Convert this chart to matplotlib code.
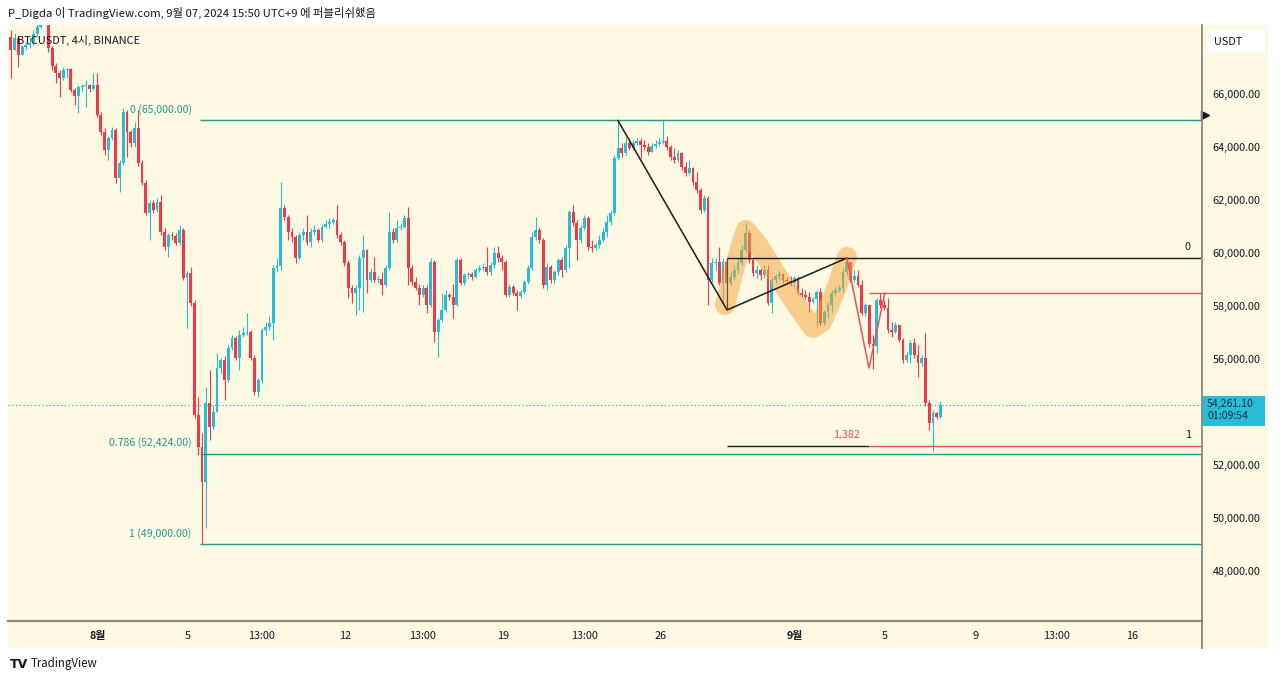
import matplotlib
matplotlib.use("Agg")
import matplotlib.pyplot as plt
import numpy as np
from matplotlib.patches import Rectangle, FancyBboxPatch
from matplotlib.lines import Line2D
from matplotlib.transforms import blended_transform_factory

plt.rcParams["font.family"] = ["Noto Sans CJK KR", "DejaVu Sans"]

# ---- BTCUSDT 4h candles (Jul 28 -> Sep 7), open of each bar = previous close ----
first_open = 68150
close = [
    67660, 68110, 67470, 67770, 67850, 67930, 68270, 68530, 68980, 69170,
    67740, 67060, 66790, 66600, 66910, 66940, 66150, 65930, 66260, 66300,
    66340, 66190, 66340, 65210, 64570, 63890, 64340, 64640, 62830, 63400,
    65320, 64570, 64150, 64720, 63400, 62640, 61510, 61890, 61620, 61920,
    60790, 60230, 60680, 60640, 60380, 60870, 59060, 59250, 58110, 53890,
    52680, 51360, 54340, 53430, 54000, 55660, 55960, 55210, 56410, 56790,
    56040, 56910, 56980, 57020, 56040, 54750, 55210, 57090, 57210, 57360,
    59430, 59510, 61700, 61360, 60790, 60600, 59810, 60680, 60790, 60410,
    60790, 60870, 60490, 60980, 61090, 61170, 61250, 60680, 60410, 59620,
    58680, 58490, 58680, 59810, 60110, 58980, 59280, 58980, 59020, 58790,
    59430, 60790, 60490, 60940, 60980, 61320, 59430, 58910, 58680, 58410,
    58680, 58040, 59660, 57020, 57470, 57850, 58410, 58340, 58040, 59740,
    58870, 59170, 59210, 59090, 59360, 59430, 59470, 59280, 59550, 60000,
    59810, 59660, 58410, 58720, 58490, 58380, 58530, 58910, 59430, 60600,
    60870, 60490, 58790, 59470, 58980, 59280, 59740, 59360, 60190, 61550,
    61130, 60490, 60940, 61320, 60230, 60190, 60300, 60490, 60790, 61170,
    61510, 63590, 63960, 63770, 64150, 63960, 64150, 64230, 64080, 64000,
    63810, 64040, 64110, 64190, 64230, 64000, 63620, 63510, 63770, 63250,
    63020, 63210, 62680, 62380, 61620, 62080, 58980, 59620, 59660, 58870,
    59660, 58870, 59090, 59360, 59620, 60110, 60760, 59740, 59250, 59360,
    59170, 59360, 58110, 58980, 59130, 59210, 58980, 58940, 58870, 59060,
    58490, 58410, 58340, 58150, 58260, 58530, 57360, 57770, 58040, 58490,
    58600, 58680, 59280, 59660, 58980, 59130, 58790, 57740, 58040, 56570,
    56490, 58230, 58040, 57920, 57090, 57020, 57280, 56720, 55960, 56150,
    56600, 56150, 55850, 56040, 54340, 53580, 53960, 53810, 54261.10,
]
high = [
    68420, 68300, 68190, 67850, 67960, 68150, 68420, 68790, 69360, 69550,
    69170, 67810, 67170, 66910, 67020, 66980, 66980, 66230, 66340, 66380,
    66530, 66380, 66790, 66790, 65320, 64720, 64420, 64760, 64720, 63510,
    65470, 65400, 64640, 64940, 65400, 63510, 62760, 62000, 62000, 62080,
    62190, 60940, 60760, 60790, 60760, 61060, 60940, 59320, 59470, 58230,
    54570, 53210, 54940, 55580, 54260, 56230, 56040, 56110, 56530, 56910,
    56870, 57090, 57210, 57740, 57090, 56150, 55280, 57170, 57400, 57620,
    59550, 59810, 62680, 61810, 61430, 60940, 60680, 60790, 60940, 61430,
    60940, 61060, 60940, 61090, 61250, 61320, 61320, 61810, 60790, 60490,
    59740, 58790, 58790, 59920, 60680, 60150, 59430, 59850, 59130, 59280,
    59550, 61550, 60940, 61250, 61130, 61430, 61740, 59550, 59090, 58830,
    58790, 58790, 59810, 59740, 57550, 58490, 58600, 58490, 58830, 59810,
    59810, 59250, 59280, 59280, 59430, 59550, 59620, 60230, 59660, 60230,
    60260, 59920, 59740, 58830, 58790, 58600, 58600, 58980, 59550, 60790,
    61360, 60980, 60570, 59620, 59550, 59360, 59810, 59850, 60300, 61620,
    61810, 61250, 61060, 61430, 61400, 60490, 60380, 60680, 60940, 61430,
    61620, 63700, 65000, 64150, 64340, 64340, 64260, 64340, 64340, 64260,
    64150, 64150, 64260, 64340, 65000, 64420, 64080, 63960, 63890, 63810,
    63430, 63510, 63250, 63060, 62450, 62190, 62150, 59810, 59810, 60230,
    59810, 59740, 59280, 59550, 59810, 60300, 61130, 60870, 59810, 59550,
    59430, 59550, 59550, 59090, 59210, 59320, 59250, 59090, 59130, 59130,
    59130, 58680, 58600, 58530, 58340, 58600, 58680, 57850, 58150, 58600,
    58720, 58790, 59430, 59810, 59660, 59360, 59360, 58980, 58110, 58040,
    56910, 58300, 58490, 58230, 58300, 57400, 57400, 57280, 56790, 56260,
    56720, 56790, 56530, 56150, 56980, 54450, 54080, 54000, 54410,
]
low = [
    66600, 67660, 67020, 67470, 67660, 67740, 67850, 68190, 68490, 68790,
    67590, 66910, 66420, 65890, 66530, 66600, 66080, 65590, 65280, 66080,
    65510, 66080, 66150, 65130, 64450, 63700, 63510, 64260, 62640, 62300,
    63320, 63620, 64000, 64000, 63280, 62570, 61430, 60490, 61510, 61550,
    60680, 60110, 59850, 60490, 60300, 60300, 58980, 57170, 58000, 53770,
    52380, 49000, 49620, 52940, 53320, 54000, 55470, 54450, 55130, 56340,
    55960, 55580, 56830, 56910, 55960, 54640, 54570, 55090, 56910, 57090,
    56720, 59280, 59360, 61250, 60490, 60410, 59620, 59740, 60490, 60300,
    60230, 60680, 60410, 60410, 60940, 60940, 61090, 60570, 60300, 59510,
    58300, 58110, 57660, 57850, 57770, 58490, 58910, 58910, 58870, 58410,
    58720, 59360, 60380, 60410, 60870, 60940, 58790, 58790, 58600, 58040,
    58340, 57740, 57960, 56640, 56080, 57400, 57770, 58230, 57550, 58000,
    58790, 58790, 59060, 58980, 59060, 59280, 59360, 59170, 59170, 59430,
    59660, 59360, 58340, 58340, 58410, 57850, 58300, 58450, 58830, 59360,
    60490, 60380, 58680, 58600, 58870, 58870, 59170, 59090, 59280, 59430,
    61020, 59740, 60380, 60870, 60110, 60040, 60110, 60190, 60410, 60600,
    61060, 61430, 63510, 63620, 63700, 63890, 63890, 64080, 63590, 63890,
    63700, 63810, 63960, 64040, 64110, 63890, 63510, 63400, 63430, 63130,
    62910, 62940, 62570, 62260, 61510, 61550, 58040, 58910, 59360, 58790,
    58110, 57850, 58790, 58980, 59250, 59550, 60040, 59620, 59130, 59060,
    58980, 59060, 58040, 57740, 58870, 58980, 58870, 58830, 58750, 58680,
    58410, 58340, 58260, 57770, 58110, 57210, 57280, 57280, 57550, 57770,
    58380, 58530, 58530, 59170, 58910, 58900, 58720, 57660, 57620, 56450,
    55620, 56230, 57920, 57850, 56980, 56830, 56980, 56640, 55850, 55890,
    55850, 56040, 55320, 55740, 54230, 53320, 52530, 53730, 53770,
]

# fib retracement drawn from the Aug 5 low (teal)
fib_levels = [65000, 52424, 49000]
fib_labels = ["0 (65,000.00)", "0.786 (52,424.00)", "1 (49,000.00)"]
fib_start = 4.535            # days since Aug 1 00:00

# black pattern lines: days / prices
zig_days = [23.12, 27.97, 33.30]
zig_prices = [65000, 57850, 59810]
black_zero = 59810
black_one = 52716
# red projection
red_days = [33.30, 34.28, 34.99]
red_prices = [59810, 55660, 58490]
red_level = 58490
red_ext = 52716
red_ext_label = "1.382"
# orange highlight stroke
hl_days = [27.88, 28.37, 28.81, 29.30, 30.33, 31.21, 31.79, 32.19, 32.77, 33.30]
hl_prices = [58037, 59660, 60868, 60377, 58980, 57848, 57169, 57396, 58528, 59849]

xtick_pos = [0, 4, 7.29, 11, 14.41, 18, 21.61, 25, 31, 35, 39, 42.64, 46]
xtick_lab = ["8월", "5", "13:00", "12", "13:00", "19", "13:00", "26", "9월", "5", "9", "13:00", "16"]
# 54,000 is hidden behind the last-price label, as on the reference
price_ticks = [48000, 50000, 52000, 56000, 58000, 60000, 62000, 64000, 66000]

header = "P_Digda 이 TradingView.com, 9월 07, 2024 15:50 UTC+9 에 퍼블리쉬했음"
symbol = "BTCUSDT, 4시, BINANCE"
countdown = "01:09:54"

W, H = 1280, 681
BG = "#fdf9e2"
UP = "#27bdd6"
DN = "#ee3a49"
TEAL = "#1f9c8c"
TXT = "#131722"
SEP = "#8a887b"


def fx(px):
    return px / W


def fy(py):
    return 1 - py / H


fig = plt.figure(figsize=(12.8, 6.81), dpi=100, facecolor="white")
fig.patches.append(Rectangle((fx(8), fy(648)), fx(1268) - fx(8), fy(25) - fy(648),
                             transform=fig.transFigure, facecolor=BG, edgecolor="none", zorder=-5))

ax = fig.add_axes([fx(8), fy(620), fx(1202) - fx(8), fy(25) - fy(620)])
ax.set_zorder(1)
ax.set_facecolor(BG)
for s in ax.spines.values():
    s.set_visible(False)
x0, x1 = -4.0, 49.09
y0, y1 = 46149, 68604
ax.set_xlim(x0, x1)
ax.set_ylim(y0, y1)
per_px = (y1 - y0) / 595.0

# candles
c = np.array(close, dtype=float)
hi = np.array(high, dtype=float)
lo = np.array(low, dtype=float)
n = len(c)
d_last = 37.46
t = d_last - (n - 1 - np.arange(n)) / 6.0
o = np.r_[first_open, c[:-1]]
cols = np.where(c >= o, UP, DN)
ax.vlines(t, lo, hi, colors=cols, linewidth=0.8, zorder=3)
ax.bar(t, np.maximum(np.abs(c - o), 30), bottom=np.minimum(o, c), width=0.128,
       color=cols, linewidth=0, zorder=4)

# last price dotted line
ax.axhline(c[-1], color=UP, lw=0.9, ls=(0, (1, 2)), zorder=2)

# teal fib
ax.hlines(fib_levels, fib_start, x1, color=TEAL, lw=1.0, zorder=5)
for lv, lb in zip(fib_levels, fib_labels):
    ax.annotate(lb, xy=(fib_start, lv), xytext=(-6, 8), textcoords="offset points",
                ha="right", va="center", fontsize=7.6, color=TEAL)

# orange highlight
ax.plot(hl_days, hl_prices, color="#f5a43a", alpha=0.5, lw=14.5,
        solid_capstyle="round", solid_joinstyle="round", zorder=6)

# black lines
ax.plot(zig_days, zig_prices, color="#1b1b1b", lw=1.1, zorder=7)
ax.hlines(black_zero, zig_days[1], x1, color="#1b1b1b", lw=1.0, zorder=7)
ax.hlines(black_one, zig_days[1], red_days[1], color="#1b1b1b", lw=1.0, zorder=7)
ax.vlines(zig_days[1], zig_prices[1], black_zero, color="#6b4a20", lw=0.8, zorder=7)
ax.annotate("0", xy=(x1, black_zero), xytext=(-8, 8), textcoords="offset points",
            ha="right", va="center", fontsize=7.8, color=TXT)
ax.annotate("1", xy=(x1, black_one), xytext=(-8, 8), textcoords="offset points",
            ha="right", va="center", fontsize=7.8, color=TXT)

# red lines
RED = "#f0505c"
ax.plot(red_days, red_prices, color=RED, lw=1.1, zorder=7)
ax.hlines(red_level, red_days[1], x1, color=RED, lw=1.0, zorder=7)
ax.hlines(red_ext, red_days[1], x1, color=RED, lw=1.0, zorder=7)
ax.annotate(red_ext_label, xy=(red_days[0], red_ext), xytext=(0, 8), textcoords="offset points",
            ha="center", va="center", fontsize=7.8, color="#e8505c")

# right price axis
ax.yaxis.tick_right()
ax.set_yticks(price_ticks)
ax.set_yticklabels([f"{v:,.2f}" for v in price_ticks])
ax.tick_params(axis="y", length=0, pad=7.5, labelsize=7.8, labelcolor=TXT)

# bottom time axis
ax.set_xticks(xtick_pos)
ax.set_xticklabels(xtick_lab)
ax.tick_params(axis="x", length=0, pad=8, labelsize=7.8, labelcolor=TXT)
for lab in ax.get_xticklabels():
    if lab.get_text().endswith("월"):
        lab.set_fontweight("bold")

# separators
fig.add_artist(Line2D([fx(1202), fx(1202)], [fy(25), fy(648)], color=SEP, lw=1.3, zorder=3))
fig.add_artist(Line2D([fx(8), fx(1202)], [fy(621), fy(621)], color=SEP, lw=1.6, zorder=3))

# last price label (price + bar countdown)
bt = blended_transform_factory(ax.transAxes, ax.transData)
bw = 63.0 / 1194
ax.add_patch(Rectangle((1.0, c[-1] - 21 * per_px), bw, 30 * per_px, transform=bt,
                       facecolor=UP, edgecolor="none", clip_on=False, zorder=8))
ax.text(1.0 + 5.0 / 1194, c[-1] + 6 * per_px, f"{c[-1]:,.2f}\n{countdown}", transform=bt,
        ha="left", va="top", fontsize=7.6, linespacing=1.2, color="#0f2f46",
        zorder=9, clip_on=False)
ax.plot([1.0 + 3.0 / 1194], [65200], marker=">", markersize=6, color="#131313",
        transform=bt, clip_on=False, zorder=9)

# USDT box
fig.patches.append(FancyBboxPatch((fx(1207), fy(53)), fx(1266) - fx(1207), fy(30) - fy(53),
                                  boxstyle="round,pad=0,rounding_size=0.003",
                                  transform=fig.transFigure, facecolor="white",
                                  edgecolor="none", zorder=2))
fig.text(fx(1214), fy(42), "USDT", fontsize=7.8, color=TXT, va="center", zorder=3)

# header / footer texts
fig.text(fx(8), fy(13), header, fontsize=8.2, color=TXT, va="center")
fig.text(fx(17), fy(40), symbol, fontsize=7.9, color=TXT, va="center", zorder=5)
fig.text(fx(10), fy(664), "TV", fontsize=9, fontweight="bold", color="#131722",
         va="center", family="DejaVu Sans")
fig.text(fx(31), fy(664), "TradingView", fontsize=8.3, color=TXT, va="center")

fig.savefig("out.png", dpi=100, facecolor="white")
